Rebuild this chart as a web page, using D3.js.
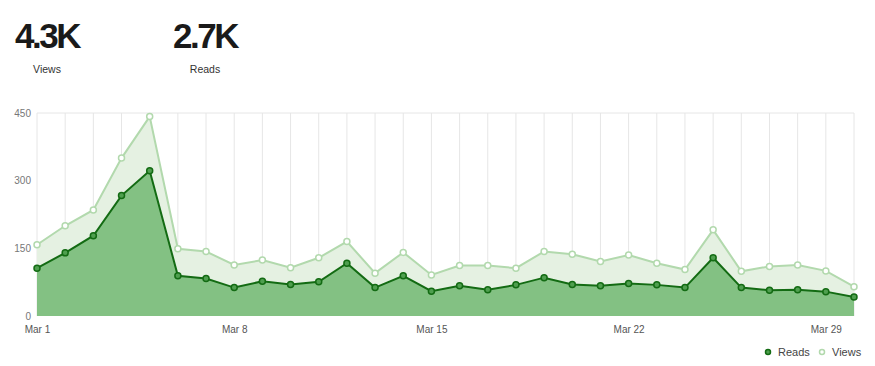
<!DOCTYPE html>
<html>
<head>
<meta charset="utf-8">
<script src="https://cdn.jsdelivr.net/npm/d3@7"></script>
<style>
  body { margin: 0; background: #fff; }
  text { font-family: "Liberation Sans", Arial, sans-serif; }
</style>
</head>
<body>
<svg id="chart" width="875" height="366"></svg>
<script>
// days of March shown on the chart
var days = [1,2,3,4,5,6,7,8,9,10,11,12,13,14,15,16,17,18,19,20,21,22,23,24,25,26,27,28,29,30]
var views = [158,200,235,350,442,149,143,113,124,107,129,165,95,141,91,112,112,106,143,137,121,135,117,103,191,99,110,113,100,65]
var reads = [106,140,178,267,322,89,83,63,77,70,76,117,63,89,55,67,58,69,85,70,67,72,69,63,129,63,57,58,54,42]
var yTicks = [0,150,300,450]
var xTicks = [1,8,15,22,29]
var totals = [["4.3K","Views"],["2.7K","Reads"]]
var legendItems = ["Reads","Views"]

var xleft = 37, xright = 854, ytop = 113, ybottom = 316

var svg = d3.select("#chart")

var x = d3.scaleLinear().domain([1, 30]).range([xleft, xright])
var y = d3.scaleLinear().domain([0, 450]).range([ybottom, ytop])

var colViewsArea = "#e5f1e2", colViewsLine = "#b2d9ad"
var colReadsArea = "#83c183", colReadsLine = "#136b13", colReadsDot = "#4f9f4f"

// big totals on top
var totalX = [47, 205]
var tot = svg.append("g").attr("id", "totals")
totals.forEach(function(d, i){
    tot.append("text")
	.attr("x", totalX[i]).attr("y", 48)
	.attr("text-anchor", "middle")
	.attr("font-size", "35px")
	.attr("font-weight", "bold")
	.attr("letter-spacing", "-2.5px")
	.attr("fill", "#1a1a1a")
	.text(d[0])
    tot.append("text")
	.attr("x", totalX[i]).attr("y", 73)
	.attr("text-anchor", "middle")
	.attr("font-size", "10.5px")
	.attr("fill", "#333")
	.text(d[1])
})

// grid
var grid = svg.append("g").attr("id", "grid")
grid.selectAll("line")
    .data(days)
    .enter()
    .append("line")
    .attr("x1", function(d){ return x(d) })
    .attr("x2", function(d){ return x(d) })
    .attr("y1", ytop)
    .attr("y2", ybottom)
    .attr("stroke", "#e6e6e6")
    .attr("stroke-width", 1)
grid.append("line")
    .attr("x1", xleft).attr("x2", xright)
    .attr("y1", ytop).attr("y2", ytop)
    .attr("stroke", "#e6e6e6")

var area = function(vals){
    return d3.area()
	.x(function(d, i){ return x(days[i]) })
	.y0(y(0))
	.y1(function(d){ return y(d) })(vals)
}
var line = function(vals){
    return d3.line()
	.x(function(d, i){ return x(days[i]) })
	.y(function(d){ return y(d) })(vals)
}

svg.append("path").attr("d", area(views)).attr("fill", colViewsArea)
svg.append("path").attr("d", area(reads)).attr("fill", colReadsArea)
svg.append("path").attr("d", line(views)).attr("fill", "none")
    .attr("stroke", colViewsLine).attr("stroke-width", 2)
svg.append("path").attr("d", line(reads)).attr("fill", "none")
    .attr("stroke", colReadsLine).attr("stroke-width", 2)

svg.append("g").selectAll("circle")
    .data(views)
    .enter()
    .append("circle")
    .attr("cx", function(d, i){ return x(days[i]) })
    .attr("cy", function(d){ return y(d) })
    .attr("r", 3)
    .attr("fill", "#fff")
    .attr("stroke", colViewsLine)
    .attr("stroke-width", 1.5)

svg.append("g").selectAll("circle")
    .data(reads)
    .enter()
    .append("circle")
    .attr("cx", function(d, i){ return x(days[i]) })
    .attr("cy", function(d){ return y(d) })
    .attr("r", 3)
    .attr("fill", colReadsDot)
    .attr("stroke", colReadsLine)
    .attr("stroke-width", 1.5)

// axes
var yAxis = d3.axisLeft(y).tickValues(yTicks).tickSize(0).tickPadding(6)
var ya = svg.append("g").attr("transform", "translate(" + xleft + ",0)").call(yAxis)
ya.select(".domain").remove()
ya.selectAll("text").attr("font-size", "10px").attr("fill", "#777")
    .style("font-family", "\"Liberation Sans\", Arial, sans-serif")

var xAxis = d3.axisBottom(x).tickValues(xTicks).tickSize(0).tickPadding(10)
    .tickFormat(function(d){ return "Mar " + d })
var xa = svg.append("g").attr("transform", "translate(0," + ybottom + ")").call(xAxis)
xa.select(".domain").remove()
xa.selectAll("text").attr("font-size", "10px").attr("fill", "#555")
    .style("font-family", "\"Liberation Sans\", Arial, sans-serif")

// legend
var legX = [768, 822]
var leg = svg.append("g").attr("id", "legend")
legendItems.forEach(function(d, i){
    leg.append("circle")
	.attr("cx", legX[i]).attr("cy", 352).attr("r", 2.5)
	.attr("fill", i == 0 ? colReadsDot : "#fff")
	.attr("stroke", i == 0 ? colReadsLine : colViewsLine)
	.attr("stroke-width", 1.5)
    leg.append("text")
	.attr("x", legX[i] + 10).attr("y", 356)
	.attr("font-size", "11px")
	.attr("fill", "#444")
	.text(d)
})
</script>
</body>
</html>
